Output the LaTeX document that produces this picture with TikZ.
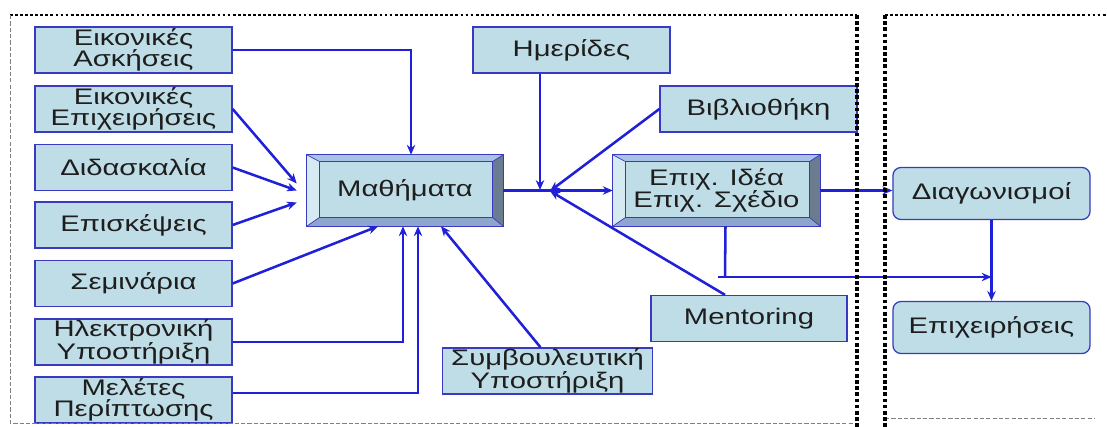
\documentclass[tikz,border=0pt]{standalone}
\usepackage{fontspec}
\setmainfont{Liberation Sans}[FakeStretch=1.3]
\usepackage{xcolor}
\usepackage{tikz}
\usetikzlibrary{arrows.meta, calc}
\definecolor{boxfill}{HTML}{BFDDE6}
\definecolor{boxline}{HTML}{3A3AC0}
\definecolor{linkblue}{HTML}{2020D8}
\definecolor{bevtop}{HTML}{A9C3E6}
\definecolor{bevleft}{HTML}{D6EAF2}
\definecolor{bevright}{HTML}{6C7C90}
\definecolor{bevbot}{HTML}{8EA6CE}
\definecolor{txt}{HTML}{1E1E1E}

% bevelled frame round a node
\newcommand{\bevel}[1]{%
  \fill[bevtop] (#1.north west) -- (#1.north east) -- ($(#1.north east)+(-11,7)$) -- ($(#1.north west)+(13,7)$) -- cycle;
  \fill[bevleft] (#1.north west) -- ($(#1.north west)+(13,7)$) -- ($(#1.south west)+(13,-9)$) -- (#1.south west) -- cycle;
  \fill[bevright] (#1.north east) -- (#1.south east) -- ($(#1.south east)+(-11,-9)$) -- ($(#1.north east)+(-11,7)$) -- cycle;
  \fill[bevbot] (#1.south west) -- (#1.south east) -- ($(#1.south east)+(-11,-9)$) -- ($(#1.south west)+(13,-9)$) -- cycle;
  \draw[boxline,line width=0.9pt] (#1.north west) rectangle (#1.south east)
    ($(#1.north west)+(13,7)$) rectangle ($(#1.south east)+(-11,-9)$);
  \draw[boxline,line width=0.5pt] (#1.north west) -- ++(13,7) (#1.north east) -- ++(-11,7)
    (#1.south west) -- ++(13,-9) (#1.south east) -- ++(-11,-9);
}

\begin{document}
\begin{tikzpicture}[x=0.025cm, y=-0.025cm,
        box/.style={draw=boxline, fill=boxfill, line width=0.9pt, text=txt,
          minimum width=4.925cm, minimum height=1.15cm, align=center, inner sep=0.5pt,
          font=\fontsize{16}{15}\selectfont},
        bevbox/.style={fill=boxfill, text=txt, minimum height=1.775cm, align=center,
          inner sep=0.5pt, font=\fontsize{16}{16}\selectfont},
        rbox/.style={box, rounded corners=0.2cm, minimum height=1.3cm},
        link/.style={linkblue, line width=1.8pt},
        arr/.style={link, -{Stealth[length=7pt,width=6pt]}},
        topdots/.style={black, line width=1.4pt, dash pattern=on 2pt off 1.6pt},
        thindash/.style={gray, line width=0.5pt, dash pattern=on 3pt off 1.5pt},
        bigdots/.style={black, line width=2.6pt, dash pattern=on 2.6pt off 1.8pt}]
        \useasboundingbox (0,0) rectangle (1107,427);

        %----------------  αριστερή στήλη  ----------------
        \node[box] (eas) at (133.5,50)  {Εικονικές\\Ασκήσεις};
        \node[box] (eep) at (133.5,109) {Εικονικές\\Επιχειρήσεις};
        \node[box] (did) at (133.5,167.5) {Διδασκαλία};
        \node[box] (epk) at (133.5,225) {Επισκέψεις};
        \node[box] (sem) at (133.5,283.5) {Σεμινάρια};
        \node[box] (ely) at (133.5,342) {Ηλεκτρονική\\Υποστήριξη};
        \node[box] (mel) at (133.5,400) {Μελέτες\\Περίπτωσης};

        %----------------  μέση  ----------------
        \node[bevbox, minimum width=4.9cm] (mat) at (405,190.5) {Μαθήματα};
        \bevel{mat}
        \node[bevbox, minimum width=5.175cm] (idea) at (716.5,190.5) {Επιχ. Ιδέα\\Επιχ. Σχέδιο};
        \bevel{idea}
        \node[box] (hme) at (571.5,50) {Ημερίδες};
        \node[box] (bib) at (758.5,109) {Βιβλιοθήκη};
        \node[box, minimum width=4.9cm] (men) at (749,318.5) {Mentoring};
        \node[box, minimum width=5.25cm] (sym) at (547.5,371) {Συμβουλευτική\\Υποστήριξη};

        %----------------  δεξιά  ----------------
        \node[rbox] (dia) at (991.5,193.5) {Διαγωνισμοί};
        \node[rbox] (epx) at (991.5,327.5) {Επιχειρήσεις};

        \coordinate (hub) at (540,190);
        \coordinate (hubr) at (550,191);
        \coordinate (tee) at (725,277);

        % προς τα Μαθήματα
        \draw[arr] (eas.east) -| ($(mat.north)+(6,0)$);
        \draw[arr] (eep.east) -- ($(mat.west)+(-10,-7)$);
        \draw[arr] (did.east) -- ($(mat.west)+(-10,0)$);
        \draw[arr] (epk.east) -- ($(mat.west)+(-10,12)$);
        \draw[arr] (sem.east) -- ($(mat.south)+(-27,0)$);
        \draw[arr] (ely.east) -| ($(mat.south)+(-2,0)$);
        \draw[arr] ($(mel.east)+(0,-7)$) -| ($(mat.south)+(13,0)$);
        \draw[arr] ($(sym.north)+(-7,0)$) -- ($(mat.south)+(36,0)$);

        % προς την Επιχ. Ιδέα
        \draw[arr] (mat.east) -- (idea.west);
        \draw[arr] (hub |- hme.south) -- (hub);
        \draw[arr] (bib.west) -- (hubr);
        \draw[arr] ($(men.north)+(-24,0)$) -- (hubr);

        % προς τα δεξιά
        \draw[arr] (idea.east) -- (idea.east -| dia.west);
        \draw[link] ($(idea.south)+(9,0)$) -- (tee);
        \draw[arr] ($(tee)+(-7,0)$) -- (tee -| dia.south);
        \draw[arr] (dia.south) -- (epx.north);

        %----------------  πλαίσια  ----------------
        \draw[topdots] (10,15) -- (857,15);
        \draw[topdots] (885,15) -- (1107,15);
        \draw[thindash] (10,15) -- (10,423) -- (857,423);
        \draw[thindash] (885,418) -- (1095,418);
        \draw[bigdots] (857,15) -- (857,427);
        \draw[bigdots] (885,15) -- (885,427);
\end{tikzpicture}
\end{document}
